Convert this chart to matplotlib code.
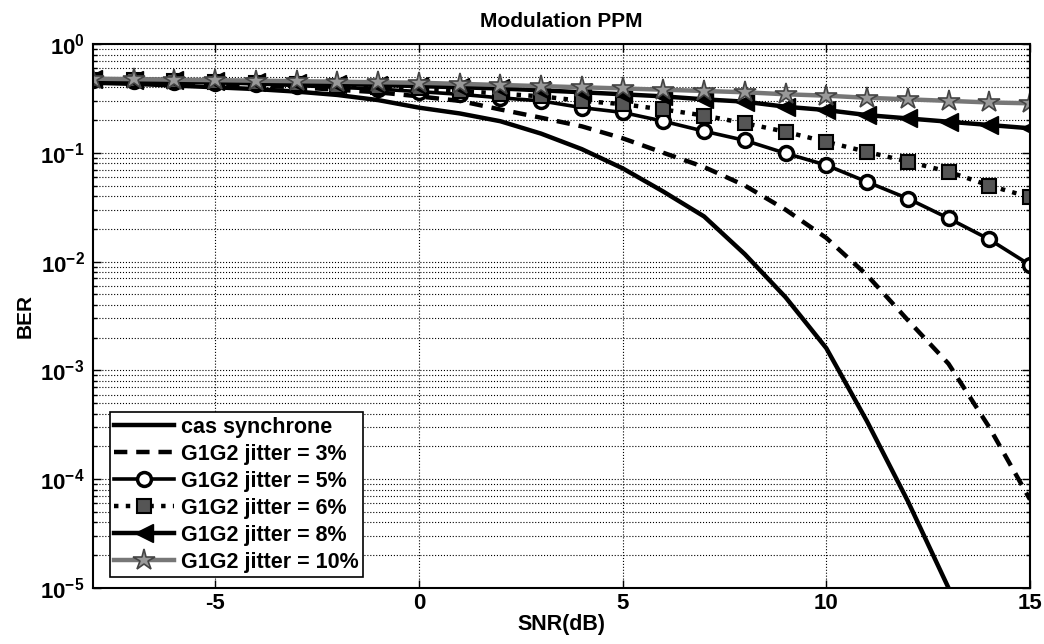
import math
import matplotlib
matplotlib.use('Agg')
import matplotlib.pyplot as plt
from matplotlib.ticker import LogLocator, FixedLocator, NullFormatter, FuncFormatter

plt.rcParams['font.family'] = ['Liberation Sans', 'DejaVu Sans']
plt.rcParams['font.weight'] = 'bold'
plt.rcParams['mathtext.fontset'] = 'custom'
plt.rcParams['mathtext.bf'] = 'Liberation Sans:bold'
plt.rcParams['mathtext.rm'] = 'Liberation Sans:bold'
plt.rcParams['axes.unicode_minus'] = False

snr = list(range(-8, 16))
snr_sync = list(range(-8, 14))

ber_sync = [0.44, 0.43, 0.415, 0.40, 0.385, 0.365, 0.34, 0.305, 0.26, 0.23, 0.195, 0.15, 0.108,
            0.072, 0.044, 0.026, 0.0117, 0.0047, 0.0016, 3.4e-4, 6.3e-5, 1e-5]
ber_j3 = [0.46, 0.45, 0.44, 0.43, 0.415, 0.40, 0.38, 0.36, 0.33, 0.30, 0.25, 0.21, 0.175, 0.136,
          0.10, 0.074, 0.05, 0.03, 0.0165, 0.0075, 0.0029, 0.00115, 3e-4, 6.5e-5]
ber_j5 = [0.47, 0.46, 0.45, 0.44, 0.43, 0.415, 0.40, 0.385, 0.365, 0.345, 0.32, 0.30, 0.26, 0.235,
          0.195, 0.158, 0.13, 0.099, 0.077, 0.054, 0.038, 0.025, 0.016, 0.0093]
ber_j6 = [0.47, 0.465, 0.46, 0.45, 0.44, 0.43, 0.415, 0.40, 0.39, 0.37, 0.35, 0.33, 0.30, 0.28,
          0.25, 0.22, 0.187, 0.156, 0.126, 0.102, 0.083, 0.067, 0.050, 0.039]
ber_j8 = [0.475, 0.47, 0.465, 0.455, 0.45, 0.44, 0.43, 0.42, 0.41, 0.40, 0.39, 0.375, 0.36, 0.345,
          0.33, 0.31, 0.295, 0.265, 0.247, 0.222, 0.207, 0.193, 0.18, 0.168]
ber_j10 = [0.48, 0.475, 0.47, 0.465, 0.46, 0.455, 0.45, 0.445, 0.44, 0.43, 0.42, 0.41, 0.40, 0.39,
           0.38, 0.37, 0.36, 0.345, 0.335, 0.32, 0.31, 0.30, 0.29, 0.285]

fig = plt.figure(figsize=(10.44, 6.44), dpi=100)
ax = fig.add_axes([0.089, 0.087, 0.8976, 0.8447])

ax.plot(snr_sync, ber_sync, '-', color='black', lw=3.2, label='cas synchrone')
ax.plot(snr, ber_j3, '--', color='black', lw=3.2, dashes=(3, 2), label='G1G2 jitter = 3%')
ax.plot(snr, ber_j5, '-', color='black', lw=2.6, marker='o', ms=10, mfc='white', mec='black',
        mew=2.5, label='G1G2 jitter = 5%')
ax.plot(snr, ber_j6, ':', color='black', lw=3.2, marker='s', ms=10, mfc='#555555', mec='black',
        mew=1.5, label='G1G2 jitter = 6%')
ax.plot(snr, ber_j8, '-', color='black', lw=3.2, marker='<', ms=13, mfc='black', mec='black',
        label='G1G2 jitter = 8%')
ax.plot(snr, ber_j10, '-', color='#777777', lw=3.2, marker='*', ms=16, mfc='#999999', mec='#444444',
        mew=1.2, label='G1G2 jitter = 10%')

ax.set_yscale('log')
ax.set_xlim(-8, 15)
ax.set_ylim(1e-5, 1)
ax.xaxis.set_major_locator(FixedLocator([-5, 0, 5, 10, 15]))
ax.yaxis.set_major_locator(LogLocator(base=10, numticks=10))
ax.yaxis.set_minor_locator(LogLocator(base=10, subs=range(2, 10), numticks=20))
ax.yaxis.set_minor_formatter(NullFormatter())
ax.yaxis.set_major_formatter(FuncFormatter(lambda v, p: r'$\mathbf{10^{%d}}$' % round(math.log10(v))))

ax.grid(True, which='major', linestyle=':', color='black', lw=0.8)
ax.grid(True, which='minor', axis='y', linestyle=':', color='black', lw=0.8)
ax.tick_params(which='both', direction='in', top=True, right=True, labelsize=16, width=1)
ax.tick_params(which='major', length=6)
ax.tick_params(which='minor', length=3)
ax.tick_params(axis='y', pad=6)
for lbl in ax.get_xticklabels():
    lbl.set_fontweight('bold')
for s in ax.spines.values():
    s.set_linewidth(1.5)

ax.set_title('Modulation PPM', fontsize=15, fontweight='bold', pad=12)
ax.set_xlabel('SNR(dB)', fontsize=15.5, fontweight='bold', labelpad=0)
ax.set_ylabel('BER', fontsize=15, fontweight='bold', labelpad=4)

leg = ax.legend(loc='lower left', bbox_to_anchor=(0.018, 0.02), borderaxespad=0, fontsize=15.5,
                handlelength=2.8, frameon=True, fancybox=False, edgecolor='black', framealpha=1,
                borderpad=0.2, labelspacing=0.28, handletextpad=0.3)
leg.get_frame().set_linewidth(1.2)
for t in leg.get_texts():
    t.set_fontweight('bold')

fig.savefig('out.png', dpi=100)
